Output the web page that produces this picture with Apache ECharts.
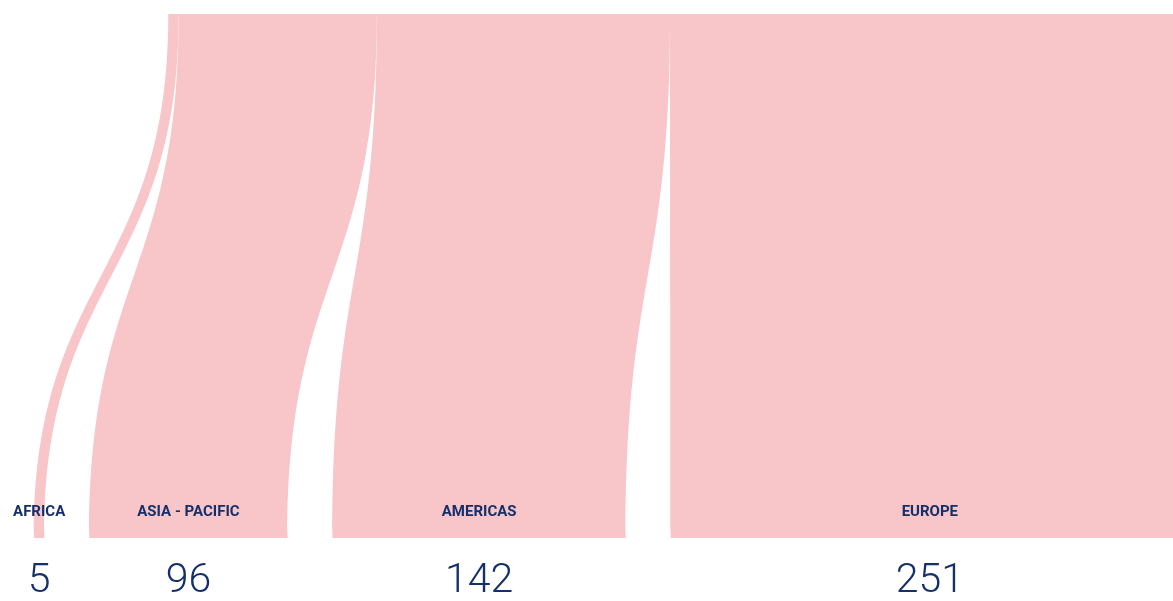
<!DOCTYPE html>
<html>
<head>
<meta charset="utf-8">
<script src="https://cdn.jsdelivr.net/npm/echarts@6/dist/echarts.min.js"></script>
<style>
  html, body { margin: 0; padding: 0; background: #fff; }
  #main { width: 1173px; height: 601px; }
</style>
</head>
<body>
<div id="main"></div>
<script>
// regions and head counts
const regions = ['AFRICA', 'ASIA - PACIFIC', 'AMERICAS', 'EUROPE'];
const counts = [5, 96, 142, 251];
const totalName = 'TOTAL';

const pink = '#f8c5c8';
const navy = '#13306b';

const chart = echarts.init(document.getElementById('main'));

const nodes = [{
  name: totalName,
  localX: (168.3 - 34) / 1155,
  label: { show: false }
}].concat(regions.map(function (r) { return { name: r }; }));

const links = regions.map(function (r, i) {
  return { source: totalName, target: r, value: counts[i] };
});

const option = {
  animation: false,
  series: [{
    type: 'sankey',
    orient: 'vertical',
    left: 34,
    top: 14,
    width: 1155,
    height: 524,
    nodeWidth: 1,
    nodeGap: 45,
    layoutIterations: 0,
    draggable: false,
    emphasis: { disabled: true },
    itemStyle: { color: pink, borderWidth: 0 },
    lineStyle: { color: pink, opacity: 1, curveness: 0.5 },
    label: {
      show: true,
      position: 'inside',
      align: 'center',
      formatter: function (p) {
        const i = regions.indexOf(p.name);
        return '{n|' + p.name + '}\n{v|' + counts[i] + '}';
      },
      rich: {
        n: {
          fontFamily: 'Roboto',
          fontWeight: 'bold',
          fontSize: 15,
          color: navy,
          lineHeight: 89,
          align: 'center'
        },
        v: {
          fontFamily: 'Roboto',
          fontWeight: 300,
          fontSize: 41,
          color: navy,
          lineHeight: 50,
          align: 'center'
        }
      }
    },
    data: nodes,
    links: links
  }]
};

chart.setOption(option);
</script>
</body>
</html>
